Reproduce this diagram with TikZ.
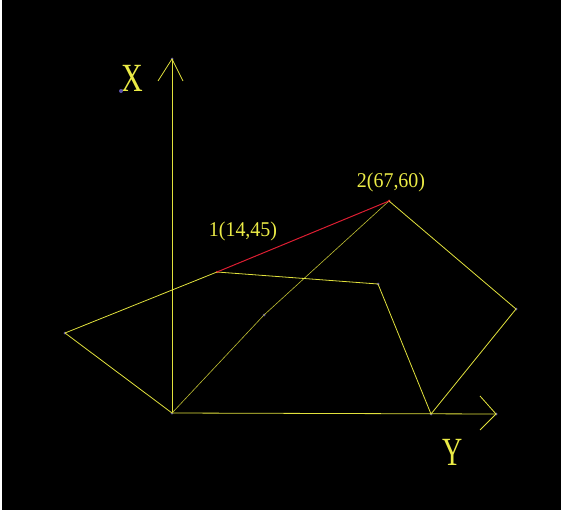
\documentclass[tikz,border=0pt]{standalone}
\usepackage{fontspec}
\setmainfont{Liberation Serif}
\begin{document}
\begin{tikzpicture}[x=1pt,y=-1pt,
  edge/.style={draw=yellowline,line width=0.8pt},
  thinedge/.style={draw=yellowline!85!black,line width=0.6pt},
  redge/.style={draw=redline,line width=1pt},
  vdot/.style={circle,fill=dotblue,inner sep=0pt,minimum size=3pt},
  lbl/.style={text=yellowtext,inner sep=0pt,font=\fontsize{21}{21}\selectfont},
  axlbl/.style={text=yellowtext,inner sep=0pt,font=\fontsize{40}{40}\selectfont}]
\definecolor{yellowline}{RGB}{225,225,60}
\definecolor{yellowtext}{RGB}{235,235,70}
\definecolor{redline}{RGB}{220,30,50}
\definecolor{dotblue}{RGB}{90,80,170}
\useasboundingbox (0,0) rectangle (561,513);
\fill[white] (0,0) rectangle (561,513);
\fill[black] (2,0) rectangle (561,510);
% vertices
\node[vdot] (O) at (172,413) {};
\node[vdot] (XT) at (172,59) {};
\coordinate (XA1) at (158,81);
\coordinate (XA2) at (183,81);
\node[vdot] (YT) at (496,414) {};
\coordinate (YA1) at (480,396);
\coordinate (YA2) at (480,430);
\node[vdot] (L) at (65,333) {};
\node[vdot,fill=redline,minimum size=2.5pt] (P1) at (217,272) {};
\node[vdot,fill=redline,minimum size=3pt] (P2) at (389,201) {};
\node[vdot] (Q) at (378,284) {};
\node[vdot] (B) at (431,414) {};
\node[vdot] (R) at (516,309) {};
\node[vdot] (M) at (264,315) {};
% axes
\draw[edge] (O.center) -- (XT.center);
\draw[edge] (XA1) -- (XT.center) -- (XA2);
\draw[edge] (O.center) -- (YT.center);
\draw[edge] (YA1) -- (YT.center) -- (YA2);
% polygon
\draw[edge] (L.center) -- (P1.center);
\draw[edge] (L.center) -- (O.center);
\draw[thinedge] (O.center) -- (M.center) -- (P2.center);
\draw[edge] (P1.center) -- (Q.center) -- (B.center) -- (R.center) -- (P2.center);
\draw[redge] (P1.center) -- (P2.center);
% labels
\node[axlbl] (XL) at (132,78) {\scalebox{0.75}[1]{X}};
\node[axlbl] (YL) at (453,452) {\scalebox{0.7}[1]{Y}};
\node[vdot,minimum size=4pt] (XD) at (121,91) {};
\node[lbl] (T1) at (243,231) {\scalebox{0.95}[1]{1(14,45)}};
\node[lbl] (T2) at (391,182) {\scalebox{0.95}[1]{2(67,60)}};
\end{tikzpicture}
\end{document}
